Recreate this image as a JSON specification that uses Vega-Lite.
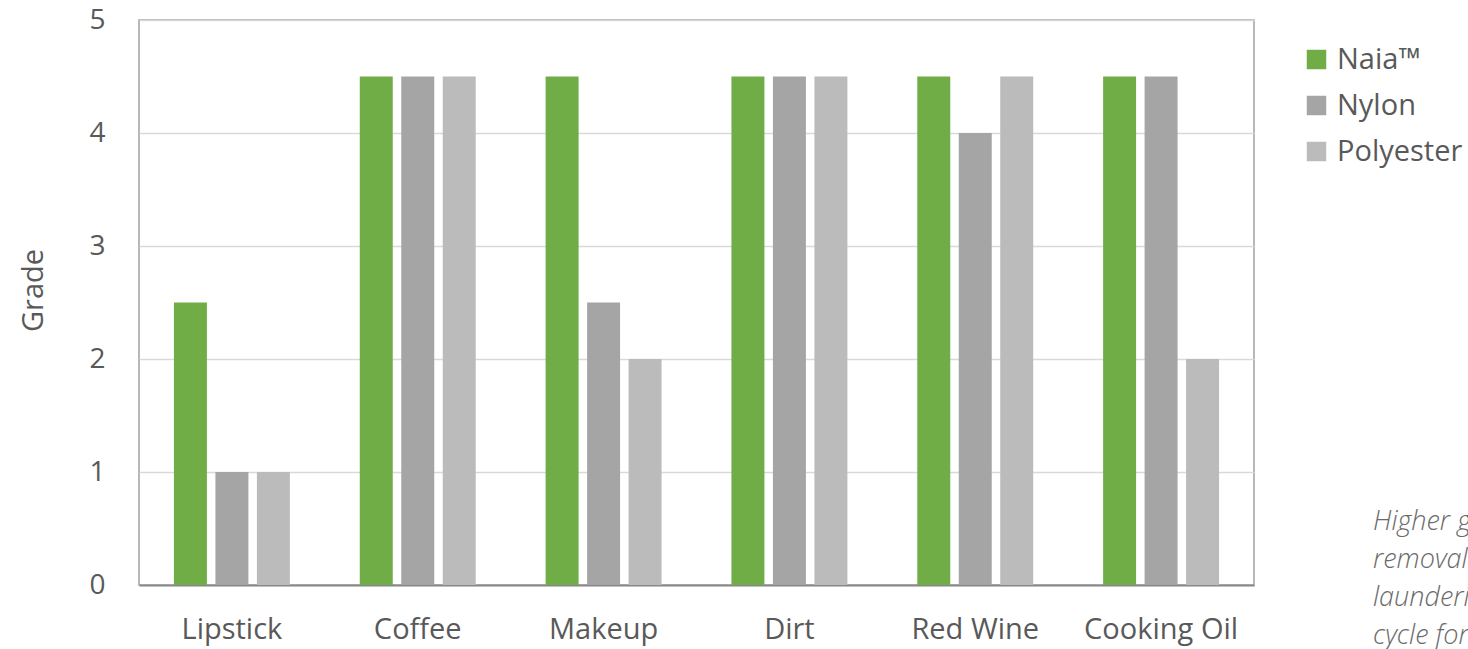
{
  "$schema": "https://vega.github.io/schema/vega-lite/v6.json",
  "autosize": "none",
  "padding": {"left": 139, "top": 20, "right": 214, "bottom": 64},
  "width": 1115,
  "height": 565,
  "background": "white",
  "title": {
    "text": ["Higher grade = better stain", "removal after one home", "laundering", "cycle for each fabric"],
    "orient": "top",
    "anchor": "end",
    "frame": "group",
    "align": "left",
    "baseline": "top",
    "dx": 119,
    "dy": 644,
    "offset": 0,
    "font": "Open Sans",
    "fontStyle": "italic",
    "fontWeight": 300,
    "fontSize": 27,
    "lineHeight": 38,
    "color": "#6A6A6A"
  },
  "data": {
    "values": [
      {"stain": "Lipstick", "fabric": "Naia™", "grade": 2.5},
      {"stain": "Lipstick", "fabric": "Nylon", "grade": 1},
      {"stain": "Lipstick", "fabric": "Polyester", "grade": 1},
      {"stain": "Coffee", "fabric": "Naia™", "grade": 4.5},
      {"stain": "Coffee", "fabric": "Nylon", "grade": 4.5},
      {"stain": "Coffee", "fabric": "Polyester", "grade": 4.5},
      {"stain": "Makeup", "fabric": "Naia™", "grade": 4.5},
      {"stain": "Makeup", "fabric": "Nylon", "grade": 2.5},
      {"stain": "Makeup", "fabric": "Polyester", "grade": 2},
      {"stain": "Dirt", "fabric": "Naia™", "grade": 4.5},
      {"stain": "Dirt", "fabric": "Nylon", "grade": 4.5},
      {"stain": "Dirt", "fabric": "Polyester", "grade": 4.5},
      {"stain": "Red Wine", "fabric": "Naia™", "grade": 4.5},
      {"stain": "Red Wine", "fabric": "Nylon", "grade": 4},
      {"stain": "Red Wine", "fabric": "Polyester", "grade": 4.5},
      {"stain": "Cooking Oil", "fabric": "Naia™", "grade": 4.5},
      {"stain": "Cooking Oil", "fabric": "Nylon", "grade": 4.5},
      {"stain": "Cooking Oil", "fabric": "Polyester", "grade": 2}
    ]
  },
  "mark": {"type": "bar"},
  "encoding": {
    "x": {
      "field": "stain",
      "type": "nominal",
      "sort": ["Lipstick", "Coffee", "Makeup", "Dirt", "Red Wine", "Cooking Oil"],
      "scale": {"paddingInner": 0.376, "paddingOuter": 0.188},
      "axis": {
        "title": null,
        "labelAngle": 0,
        "labelFont": "Open Sans",
        "labelFontSize": 29,
        "labelColor": "#595959",
        "labelPadding": 30,
        "ticks": false,
        "domainColor": "#898989",
        "domainWidth": 2
      }
    },
    "xOffset": {
      "field": "fabric",
      "type": "nominal",
      "sort": ["Naia™", "Nylon", "Polyester"],
      "scale": {"paddingInner": 0.205, "paddingOuter": 0}
    },
    "y": {
      "field": "grade",
      "type": "quantitative",
      "scale": {"domain": [0, 5], "nice": false},
      "axis": {
        "title": "Grade",
        "titleFont": "Open Sans",
        "titleFontSize": 29,
        "titleFontWeight": "normal",
        "titleColor": "#595959",
        "titlePadding": 40,
        "titleY": 270,
        "values": [0, 1, 2, 3, 4, 5],
        "labelFont": "Open Sans",
        "labelFontSize": 28,
        "labelColor": "#595959",
        "labelPadding": 34,
        "ticks": false,
        "domain": false,
        "gridColor": "#D9D9D9",
        "gridWidth": 1.5
      }
    },
    "color": {
      "field": "fabric",
      "type": "nominal",
      "sort": ["Naia™", "Nylon", "Polyester"],
      "scale": {"domain": ["Naia™", "Nylon", "Polyester"], "range": ["#70AD47", "#A5A5A5", "#BBBBBB"]},
      "legend": {
        "title": null,
        "orient": "none",
        "legendX": 1163,
        "legendY": 25,
        "symbolType": "square",
        "symbolSize": 380,
        "symbolStrokeWidth": 0,
        "labelFont": "Open Sans",
        "labelFontSize": 29,
        "labelColor": "#595959",
        "labelOffset": 6,
        "rowPadding": 16
      }
    }
  },
  "config": {
    "view": {"stroke": "#A0A0A0", "strokeWidth": 1.5}
  }
}
